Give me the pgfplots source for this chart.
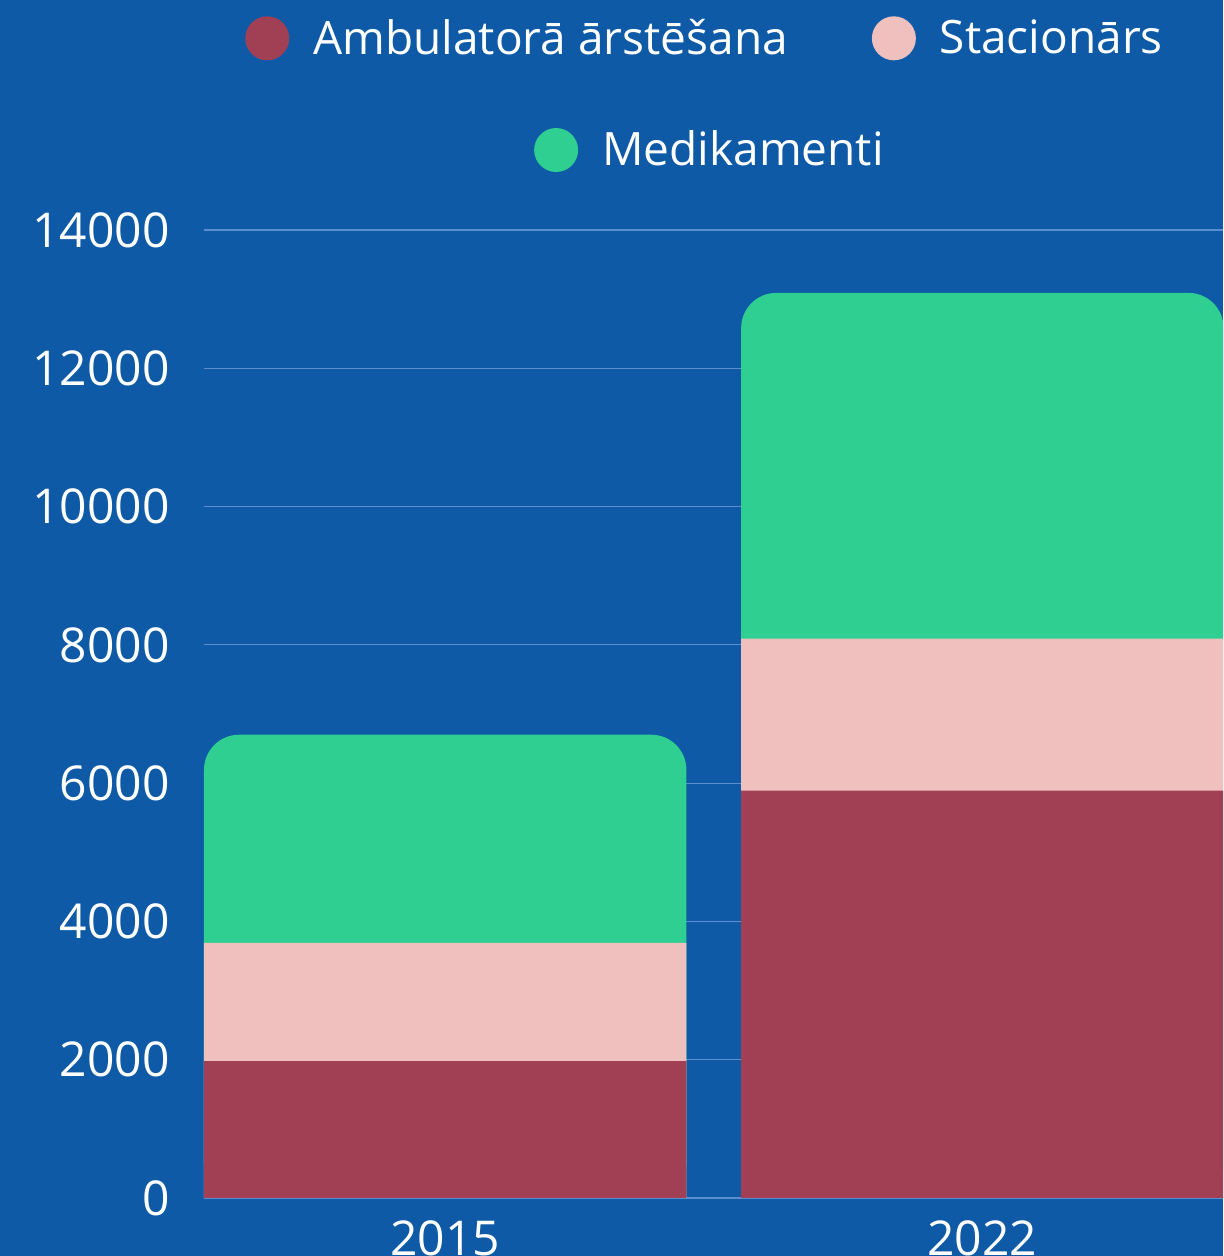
\documentclass[border=0pt]{standalone}
\usepackage{fontspec}
\setmainfont{Open Sans}
\usepackage{pgfplots}
\usepackage{pgfplotstable}
\pgfplotsset{compat=1.18}
\definecolor{bg}{HTML}{0E5AA7}
\definecolor{amb}{HTML}{A14054}
\definecolor{stac}{HTML}{F0C0BF}
\definecolor{med}{HTML}{2FCF91}
\definecolor{gridc}{HTML}{5B8FD0}
\pgfplotstableread{
x amb stac med
0 1980 1710 3010
1 5890 2200 5000
}\datatable
\newcommand{\bigf}{\fontsize{23}{27}\selectfont}
\newcommand{\tickf}{\fontsize{24}{28}\selectfont}
\pgfplotsset{
  legstyle/.style={
    legend style={draw=none, fill=none, text=white, font=\bigf,
      nodes={inner sep=0pt},
      /tikz/every odd column/.append style={column sep=12pt},
      /tikz/every even column/.append style={column sep=42pt}},
    legend image code/.code={\fill[##1, draw=none] (11pt,0pt) circle (11pt);},
  }
}
\begin{document}
\begin{tikzpicture}
\fill[bg] (-102pt,-29pt) rectangle (509.5pt,599pt);
\begin{axis}[
  at={(0,0)}, anchor=south west,
  scale only axis, width=509.5pt, height=484pt,
  xmin=-0.449, xmax=1.448,
  ymin=0, ymax=14000,
  ytick={0,2000,...,14000},
  scaled ticks=false,
  xtick={0,1}, xticklabels={2015,2022},
  axis line style={draw=none},
  major tick length=0pt,
  ymajorgrids, grid style={gridc, line width=0.6pt},
  tick label style={font=\tickf, text=white},
  /pgf/number format/assume math mode=true,
  /pgf/number format/1000 sep={},
  yticklabel style={inner xsep=0pt, xshift=-17pt},
  xticklabel style={inner ysep=0pt, yshift=-11pt},
  ybar, bar width=0.898, bar shift=0pt,
  legstyle, legend columns=2,
  legend style={at={(0.4907,1.198)}, anchor=center},
  clip=true,
]
\addplot[fill=med, draw=none, rounded corners=17.5pt, forget plot] table[x=x, y expr=\thisrow{amb}+\thisrow{stac}+\thisrow{med}] {\datatable};
\addplot[fill=stac, draw=none, forget plot] table[x=x, y expr=\thisrow{amb}+\thisrow{stac}] {\datatable};
\addplot[fill=amb, draw=none, forget plot] table[x=x, y=amb] {\datatable};
\addlegendimage{fill=amb}
\addlegendentry{Ambulatorā ārstēšana}
\addlegendimage{fill=stac}
\addlegendentry{Stacionārs}
\end{axis}
\begin{axis}[
  at={(0,0)}, anchor=south west,
  scale only axis, width=509.5pt, height=484pt,
  xmin=0, xmax=1, ymin=0, ymax=1,
  hide axis,
  legstyle,
  legend style={at={(0.4955,1.0826)}, anchor=center},
]
\addlegendimage{fill=med}
\addlegendentry{Medikamenti}
\end{axis}
\pgfresetboundingbox
\path (-102pt,-29pt) rectangle (509.5pt,599pt);
\end{tikzpicture}
\end{document}
